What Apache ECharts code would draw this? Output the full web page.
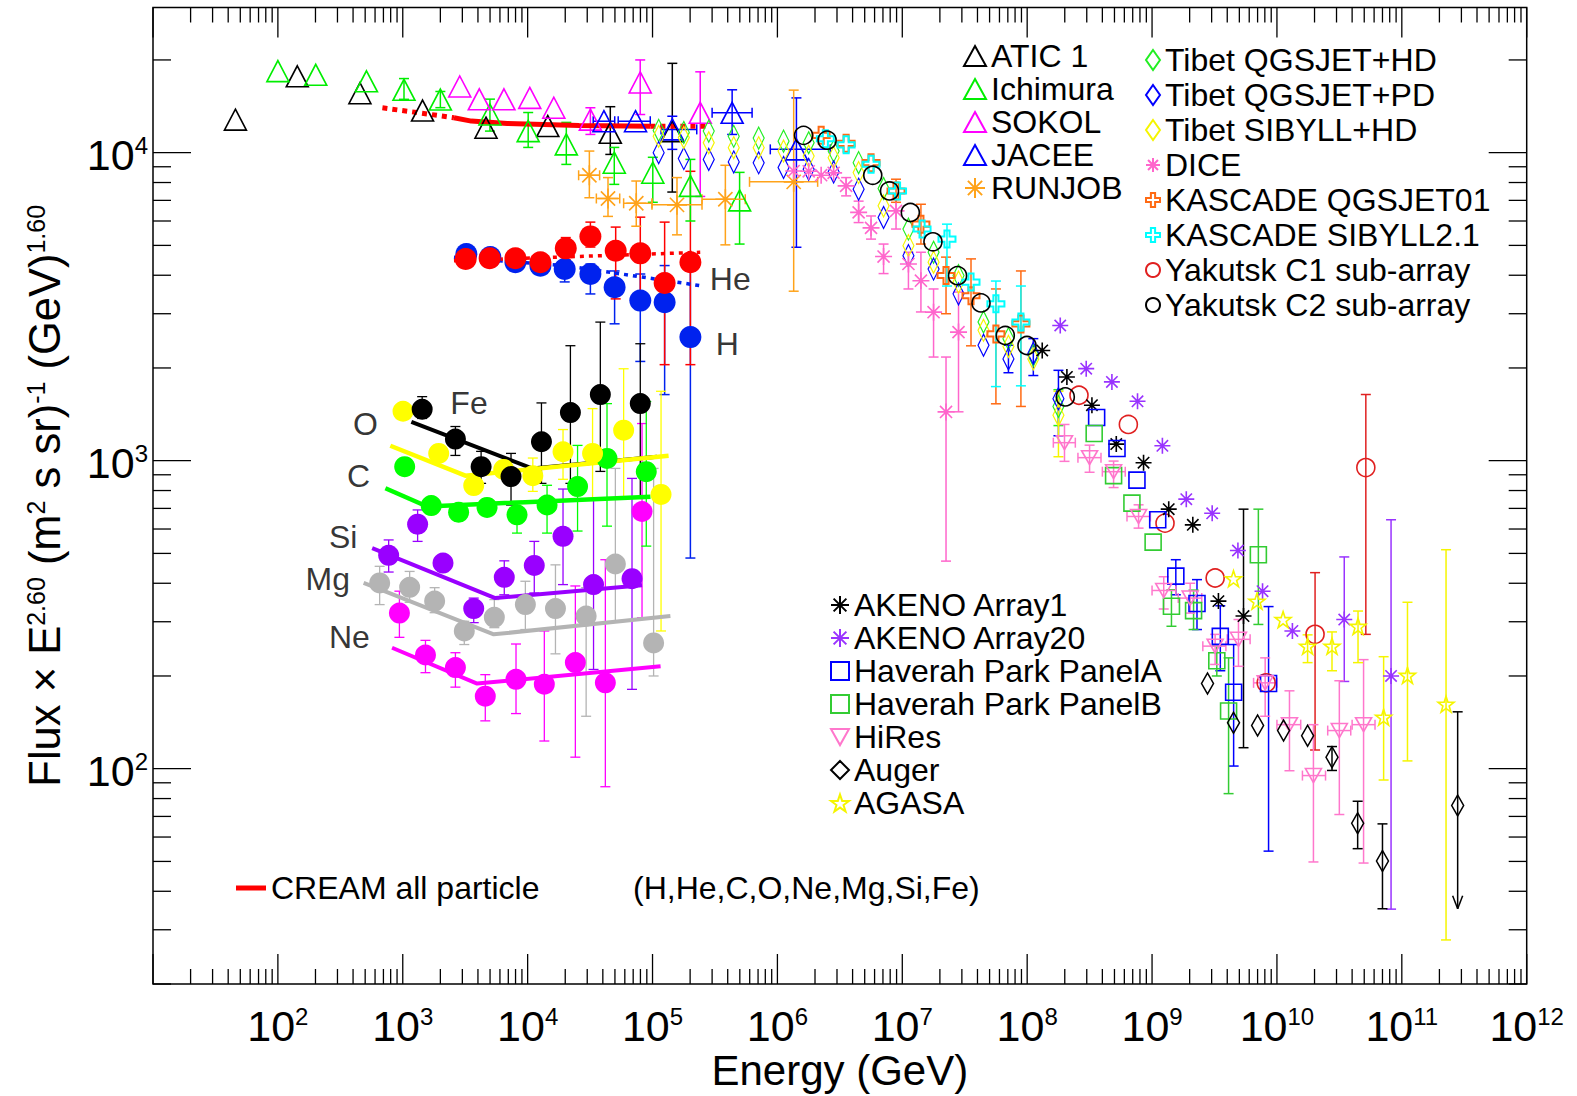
<!DOCTYPE html>
<html><head>
<meta charset="UTF-8">
<title>Cosmic ray all-particle spectrum</title>
<script src="https://cdn.jsdelivr.net/npm/echarts@6.0.0/dist/echarts.min.js"></script>
<style>
html,body{margin:0;padding:0;background:#fff;}
#main{width:1577px;height:1096px;}
</style>
</head>
<body>
<div id="main"></div>
<script>
// points are [E, flux, fluxLo, fluxHi, eLo, eHi, upperLimit]
var atic = [[45.7,12800],[143,17700],[454,15600],[1440,13700],[4640,12050],[14500,12200],[45900,11600,9870,14100],[144000,11750,7450,19500]];
var ichimura = [[100,18400],[201,17900],[512,17050],[1023,16000,14900,17400],[2000,14870,14000,15800],[4990,13300,11750,14920],[10100,11750,10400,13500],[20400,10640,9160,12540],[49400,9280,7890,10400],[100500,8610,6900,9660],[201000,7800,6000,9510],[498000,7000,5050,8630]];
var sokol = [[2860,16400],[4100,14900],[6460,14900],[10400,15060],[16200,13990],[31800,12800,11460,13990],[79700,16900,13300,20000],[241000,13470,7210,18300]];
var jacee = [[40800,12650,0,0,33500,49800],[73100,12650,0,0,53100,95900],[144000,11900,10250,13130,117000,226000],[434000,13470,11460,16000,300000,627000],[1.42e6,10250,4930,15060,877000,2.65e6]];
var runjob = [[31200,8445,7140,10120,25600,37700],[44000,7100,6210,8300,35500,54600],[74100,6850,5770,8090,58700,99000],[157000,6770,5410,8300,99000,249000],[383000,7060,5020,9100,249000,553000],[1.35e6,8040,3550,15960,598000,2.10e6]];
var tibetHD = [[1.12e5,11810],[1.78e5,11630],[2.82e5,11750],[4.47e5,11300],[7.08e5,11150],[1.12e6,10900],[1.78e6,10770],[2.82e6,10120],[4.47e6,9280],[7.08e6,7650],[1.12e7,5650],[1.78e7,4750],[2.82e7,3990],[4.47e7,2820],[7.08e7,2490],[1.12e8,2200],[1.78e8,1500,1300,1700]];
var tibetPD = [[1.12e5,10000],[1.78e5,9570],[2.82e5,9510],[4.47e5,9330],[7.08e5,9270],[1.12e6,8950],[1.78e6,8830],[2.82e6,8660],[4.47e6,7610],[7.08e6,6160],[1.12e7,4630],[1.78e7,4190],[2.82e7,3480],[4.47e7,2370],[7.08e7,2140,1930,2370],[1.12e8,2230,1890,2490],[1.78e8,1590,1205,1965]];
var tibetSIB = [[1.12e5,11300],[1.78e5,11200],[2.82e5,10770],[4.47e5,10380],[7.08e5,10380],[1.12e6,10120],[1.78e6,9750],[2.82e6,9630],[4.47e6,8620],[7.08e6,6720],[1.12e7,4990],[1.78e7,4410],[2.82e7,3800],[4.47e7,2650],[7.08e7,2350],[1.12e8,2140],[1.78e8,1405,1030,1680]];
var dice = [[1.35e6,8720],[1.78e6,8700],[2.24e6,8450],[2.82e6,8600],[3.55e6,7800,7240,8300],[4.47e6,6400,5930,6960],[5.62e6,5700,5240,6230],[7.08e6,4600,4050,5050],[8.91e6,6470,5650,7070],[1.12e7,4350,3610,4750],[1.41e7,3840,3040,4750],[1.78e7,3035,2170,3610],[2.24e7,1440,472,2170],[2.82e7,2615,1441,3527]];
var kascadeQ = [[2.24e6,11380],[3.55e6,10720],[5.62e6,9280],[8.91e6,7510,6900,8200],[1.41e7,5860,5050,6800],[2.24e7,3990,3000,4580],[3.55e7,3430,2360,4520],[5.62e7,2580,1530,3610],[8.91e7,2780,1500,4130]];
var kascadeS = [[2.42e6,11100],[3.55e6,10600],[5.62e6,9170],[9.16e6,7510],[1.44e7,5650],[2.28e7,5240,3690,5860],[3.55e7,3800],[5.62e7,3230,1740,3830],[8.91e7,2820,1750,3690]];
var yakC1 = [[2.6e8,1631],[6.46e8,1311],[1.27e9,627],[3.2e9,416],[8.2e9,190],[2.02e10,273,115,433],[5.15e10,950,273,1640]];
var yakC2 = [[1.62e6,11380],[2.5e6,10980],[5.8e6,8445],[7.9e6,7510],[1.16e7,6393],[1.76e7,5136],[2.77e7,3988],[4.27e7,3253],[6.68e7,2550],[9.96e7,2366],[2.02e8,1611]];
var akeno1 = [[1.32e8,2280],[2.08e8,1870],[3.3e8,1514],[5.17e8,1132],[8.55e8,985],[1.36e9,696],[2.12e9,619],[3.4e9,350],[5.4e9,313,117,696]];
var akeno20 = [[1.84e8,2747],[2.97e8,1990],[4.77e8,1802],[7.65e8,1559],[1.21e9,1118],[1.88e9,750],[3.03e9,675],[4.87e9,511],[7.67e9,377],[1.33e10,280],[3.46e10,305,192,487],[8.2e10,200,35,643]];
var haverahA = [[3.6e8,1381],[5.24e8,1095],[7.57e8,865],[1.11e9,643],[1.55e9,422,367,477],[2.29e9,344,283,411],[3.52e9,269,208,338],[4.5e9,177,102,253],[8.57e9,189,54,336]];
var haverahB = [[3.44e8,1225],[4.92e8,894],[6.9e8,728],[1.02e9,544],[1.43e9,337,290,381],[2.15e9,326,283,380],[3.3e9,224,200,250],[4.1e9,154,83,229],[7.1e9,495,294,696]];
var hires = [[1.99e8,1144,995,1311,1.62e8,2.43e8],[3.16e8,1023,917,1123,2.55e8,3.9e8],[4.92e8,921,818,997,4.0e8,6.1e8],[7.8e8,659,604,719,6.3e8,9.7e8],[1.24e9,379,330,420,1.0e9,1.55e9],[2.02e9,358,320,400,1.62e9,2.5e9],[3.2e9,250,218,273,2.55e9,3.9e9],[4.92e9,263,215,305,4.0e9,6.1e9],[8.05e9,190,148,229,6.5e9,1.0e10],[1.26e10,139,98.5,179,1.0e10,1.55e10],[1.96e10,95,49.8,139,1.6e10,2.45e10],[3.16e10,133,71,193,2.55e10,3.9e10],[4.94e10,139,49.4,226,4.0e10,6.1e10]];
var auger = [[2.78e9,189],[4.49e9,141],[7.0e9,138],[1.13e10,133],[1.76e10,128],[2.76e10,109,98.7,118],[4.43e10,66.5,55,78.4],[7.0e10,50.2,35.1,66.2],[2.8e11,75.9,35.1,153,0,0,1]];
var agasa = [[4.49e9,414],[6.92e9,350],[1.12e10,305],[1.76e10,250,221,272],[2.76e10,250,208,278],[4.46e10,290,221,325],[7.15e10,147,91.9,231],[1.11e11,201,106,347],[2.26e11,162,27.8,514]];

// CREAM direct measurements
var creamH = [[3230,4688],[5020,4584],[7980,4406],[12650,4295],[19800,4192,3805,4449],[31800,4037,3478,4350],[49700,3657,2782,4130],[79800,3309,2100,4037],[125000,3270,1639,4300],[201000,2519,483,4130]];
var creamHe = [[3190,4516],[4960,4540],[7980,4540],[12650,4406],[20200,4890,4500,5300],[31800,5348,4938,5950],[50700,4805,3352,5733],[79800,4711,3478,6175],[125000,3776,2050,5950],[201000,4406,2050,8700]];
var creamFe = [[1430,1469,1371,1614],[2640,1175,1040,1291],[4240,956,844,1072],[7360,888,718,1056],[12900,1152,844,1540],[22000,1433,844,2362],[38200,1639,923,2818],[79800,1532,762,2397]];
var creamO = [[1005,1447],[1940,1056],[3700,830],[6430,937],[11000,894,795,1020],[19200,1069,870,1262],[33100,1056,755,1476],[58700,1256,762,1988],[117000,777,280,1680]];
var creamC = [[1036,956],[1690,715],[2800,680],[4730,705],[8220,667,582,738],[14300,718,582,832],[25100,824,591,1121],[43200,1017,613,1532],[89100,921,528,1556]];
var creamSi = [[771,493,435,553],[1315,622,547,692],[2100,465],[3700,331,298,358],[6500,418,367,473],[11300,457,372,547],[19200,568,396,809],[33700,396,210,746],[68500,414,181,876]];
var creamMg = [[653,401,341,454],[1135,388,347,437],[1800,350,321,387],[3110,280,253,301],[5410,310,287,354],[9590,341,283,406],[16700,331,236,459],[29400,313,148,387],[50400,462,300,944],[102000,256,200,944]];
var creamNe = [[940,320,267,377],[1520,234,205,261],[2640,213,184,238],[4580,172,143,202],[8070,195,151,254],[13600,188,123,280],[24100,221,109,392],[41900,190,87.4,477],[82400,684,309,1320]];

// fitted lines
var creamAllSolid = [[2570,12980],[3540,12660],[6870,12440],[25800,12260],[96200,12190]];
var creamAllLow = [[687,13980],[1300,13500],[2570,12980]];
var creamAllHigh = [[96200,12190],[290000,12190]];
var fitH = [[2570,4574],[20000,4295],[241000,3701]];
var fitHe = [[2570,4460],[241000,4747]];
var fitFe = [[1172,1337],[10840,944],[108600,1030]];
var fitO = [[795,1118],[3170,894],[134500,1038]];
var fitC = [[726,814],[1567,710],[96300,764]];
var fitSi = [[569,520],[5500,358],[82400,394]];
var fitMg = [[486,401],[5350,273],[139000,313]];
var fitNe = [[821,247],[3940,189],[116000,215]];

var elementLabels = [['He',2.85e5,3902],['H',3.18e5,2397],['Fe',2383,1544],['O',395,1316],['C',354,892],['Si',254,565],['Mg',165,412],['Ne',254,267]];

var FONT = "'Liberation Sans', Arial, Helvetica, sans-serif";
var SYM = {
  tri: 'triangle',
  triDown: 'path://M0,0L20,0L10,18Z',
  diamond: 'diamond',
  circle: 'circle',
  square: 'rect',
  aster: 'path://M10,0L10,20M0,10L20,10M2.9,2.9L17.1,17.1M2.9,17.1L17.1,2.9',
  cross: 'path://M7,0L13,0L13,7L20,7L20,13L13,13L13,20L7,20L7,13L0,13L0,7L7,7Z',
  star: 'path://M10,0L12.4,7.2L20,7.2L13.9,11.8L16.2,19L10,14.6L3.8,19L6.1,11.8L0,7.2L7.6,7.2Z'
};

function lineEl(x1, y1, x2, y2, color, w) {
  return {type: 'line', shape: {x1: x1, y1: y1, x2: x2, y2: y2}, style: {stroke: color, lineWidth: w, fill: null}};
}

function errorSeries(name, data, color, lw, cap) {
  var rows = data.map(function (p) {
    return [p[0], p[1], p[2] || 0, p[3] || 0, p[4] || 0, p[5] || 0, p[6] || 0];
  });
  return {
    name: name + ' err', type: 'custom', clip: false, silent: true, z: 2,
    dimensions: ['e', 'f', 'flo', 'fhi', 'elo', 'ehi', 'lim'],
    encode: {x: 0, y: 1},
    data: rows,
    renderItem: function (params, api) {
      var e = api.value(0), f = api.value(1);
      var flo = api.value(2), fhi = api.value(3), elo = api.value(4), ehi = api.value(5), lim = api.value(6);
      var c = api.coord([e, f]);
      var kids = [];
      if (flo > 0 && fhi > 0) {
        var yh = api.coord([e, fhi])[1], yl = api.coord([e, flo])[1];
        kids.push(lineEl(c[0], yh, c[0], yl, color, lw));
        kids.push(lineEl(c[0] - cap, yh, c[0] + cap, yh, color, lw));
        if (lim === 1) {
          kids.push(lineEl(c[0] - 5, yl - 13, c[0], yl, color, lw));
          kids.push(lineEl(c[0] + 5, yl - 13, c[0], yl, color, lw));
        } else {
          kids.push(lineEl(c[0] - cap, yl, c[0] + cap, yl, color, lw));
        }
      }
      if (elo > 0 && ehi > 0) {
        var xl = api.coord([elo, f])[0], xh = api.coord([ehi, f])[0];
        kids.push(lineEl(xl, c[1], xh, c[1], color, lw));
        kids.push(lineEl(xl, c[1] - cap, xl, c[1] + cap, color, lw));
        kids.push(lineEl(xh, c[1] - cap, xh, c[1] + cap, color, lw));
      }
      return {type: 'group', children: kids};
    }
  };
}

function dataSet(name, data, color, symbol, size, opt) {
  opt = opt || {};
  var filled = !!opt.filled;
  var list = [{
    name: name, type: 'scatter', z: 3,
    data: data.map(function (p) { return [p[0], p[1]]; }),
    symbol: symbol, symbolSize: size,
    itemStyle: {color: filled ? color : 'rgba(255,255,255,0)', borderColor: color, borderWidth: filled ? 0 : (opt.lw || 1.6), opacity: 1},
    emphasis: {disabled: true}
  }];
  var hasErr = data.some(function (p) { return p.length > 2; });
  if (hasErr) list.push(errorSeries(name, data, color, opt.elw || 1.5, opt.cap || 5));
  return list;
}

function fitLine(name, data, color, width, dash) {
  return {
    name: name, type: 'line', data: data, symbol: 'none', showSymbol: false, silent: true, z: 2,
    lineStyle: {color: color, width: width, type: dash || 'solid', cap: 'butt'},
    itemStyle: {color: color}
  };
}

// axis decoration (log ticks on all four sides + tick labels)
var xTickData = [];
for (var k = 1; k <= 12; k++) {
  for (var m = 1; m <= 9; m++) {
    if (k === 12 && m > 1) break;
    xTickData.push([m * Math.pow(10, k), 100, m === 1 ? 1 : 0]);
  }
}
var yTickData = [];
for (var k2 = 1; k2 <= 4; k2++) {
  for (var m2 = 1; m2 <= 9; m2++) {
    var v2 = m2 * Math.pow(10, k2);
    if (v2 >= 20 && v2 <= 29600) yTickData.push([1000, v2, m2 === 1 ? 1 : 0]);
  }
}
var tickRich = {
  b: {fontSize: 43, fontFamily: FONT, fill: '#000'},
  s: {fontSize: 24, fontFamily: FONT, fill: '#000', verticalAlign: 'top'}
};

var xTickSeries = {
  name: 'xticks', type: 'custom', clip: false, silent: true, z: 5,
  encode: {x: 0, y: 1}, data: xTickData,
  renderItem: function (params, api) {
    var cs = params.coordSys, v = api.value(0), major = api.value(2) === 1;
    var x = api.coord([v, 100])[0], len = major ? 30 : 15;
    var top = cs.y, bot = cs.y + cs.height;
    var kids = [lineEl(x, bot, x, bot - len, '#000', 1.3), lineEl(x, top, x, top + len, '#000', 1.3)];
    var p = Math.round(Math.log(v) / Math.LN10);
    if (major && p >= 2) {
      kids.push({type: 'text', x: x, y: bot + 20, style: {text: '{b|10}{s|' + p + '}', rich: tickRich, align: 'center', verticalAlign: 'top', fill: '#000', fontSize: 43, fontFamily: FONT}});
    }
    return {type: 'group', children: kids};
  }
};
var yTickSeries = {
  name: 'yticks', type: 'custom', clip: false, silent: true, z: 5,
  encode: {x: 0, y: 1}, data: yTickData,
  renderItem: function (params, api) {
    var cs = params.coordSys, v = api.value(1), major = api.value(2) === 1;
    var y = api.coord([1000, v])[1], len = major ? 38 : 18;
    var left = cs.x, right = cs.x + cs.width;
    var kids = [lineEl(left, y, left + len, y, '#000', 1.3), lineEl(right, y, right - len, y, '#000', 1.3)];
    if (major) {
      var p = Math.round(Math.log(v) / Math.LN10);
      kids.push({type: 'text', x: left - 5, y: y + 2, style: {text: '{b|10}{s|' + p + '}', rich: tickRich, align: 'right', verticalAlign: 'middle', fill: '#000', fontSize: 43, fontFamily: FONT}});
    }
    return {type: 'group', children: kids};
  }
};

var labelSeries = {
  name: 'element labels', type: 'scatter', silent: true, z: 6,
  symbolSize: 1, itemStyle: {color: 'rgba(0,0,0,0)'},
  data: elementLabels.map(function (l) { return {value: [l[1], l[2]], label: {formatter: l[0]}}; }),
  label: {show: true, position: 'right', distance: 0, fontSize: 32, fontFamily: FONT, color: '#000'}
};

var series = [].concat(
  fitLine('CREAM all particle', creamAllSolid, '#ff0000', 5),
  fitLine('CREAM all low', creamAllLow, '#ff0000', 5, [5, 5]),
  fitLine('CREAM all high', creamAllHigh, '#ff0000', 5, [5, 5]),
  fitLine('H fit', fitH, '#0022ee', 3.5, [4, 5]),
  fitLine('He fit', fitHe, '#ff0000', 3.5, [4, 5]),
  fitLine('Fe fit', fitFe, '#000000', 4),
  fitLine('O fit', fitO, '#ffff00', 4.5),
  fitLine('C fit', fitC, '#00ff00', 4.5),
  fitLine('Si fit', fitSi, '#9900ff', 4),
  fitLine('Mg fit', fitMg, '#b4b4b4', 4),
  fitLine('Ne fit', fitNe, '#ff00ff', 4),
  dataSet('CREAM H', creamH, '#0022ee', 'circle', 22, {filled: true, elw: 1.5}),
  dataSet('CREAM He', creamHe, '#ff0000', 'circle', 22, {filled: true, elw: 1.5}),
  dataSet('CREAM Mg', creamMg, '#b4b4b4', 'circle', 21, {filled: true, elw: 1.3}),
  dataSet('CREAM Ne', creamNe, '#ff00ff', 'circle', 21, {filled: true, elw: 1.3}),
  dataSet('CREAM Si', creamSi, '#9900ff', 'circle', 21, {filled: true, elw: 1.3}),
  dataSet('CREAM C', creamC, '#00ff00', 'circle', 21, {filled: true, elw: 1.3}),
  dataSet('CREAM O', creamO, '#ffff00', 'circle', 21, {filled: true, elw: 1.3}),
  dataSet('CREAM Fe', creamFe, '#000000', 'circle', 21, {filled: true, elw: 1.3}),
  dataSet('ATIC 1', atic, '#000000', SYM.tri, [22, 21]),
  dataSet('Ichimura', ichimura, '#00ee00', SYM.tri, [22, 21]),
  dataSet('SOKOL', sokol, '#ff00ff', SYM.tri, [22, 21]),
  dataSet('JACEE', jacee, '#0000ff', SYM.tri, [22, 21]),
  dataSet('RUNJOB', runjob, '#ffa31a', SYM.aster, 20),
  dataSet('Tibet QGSJET+HD', tibetHD, '#22ee22', SYM.diamond, [11, 22], {lw: 1.3}),
  dataSet('Tibet QGSJET+PD', tibetPD, '#0000ff', SYM.diamond, [11, 22], {lw: 1.3}),
  dataSet('Tibet SIBYLL+HD', tibetSIB, '#f5f500', SYM.diamond, [11, 22], {lw: 1.3}),
  dataSet('DICE', dice, '#ff66cc', SYM.aster, 17),
  dataSet('KASCADE QGSJET01', kascadeQ, '#ff6a13', SYM.cross, 17, {lw: 2}),
  dataSet('KASCADE SIBYLL2.1', kascadeS, '#00ffff', SYM.cross, 17, {lw: 2}),
  dataSet('Yakutsk C1 sub-array', yakC1, '#e02020', SYM.circle, 18),
  dataSet('Yakutsk C2 sub-array', yakC2, '#000000', SYM.circle, 18),
  dataSet('AKENO Array1', akeno1, '#000000', SYM.aster, 16),
  dataSet('AKENO Array20', akeno20, '#9933ff', SYM.aster, 16),
  dataSet('Haverah Park PanelA', haverahA, '#0000ff', SYM.square, 16),
  dataSet('Haverah Park PanelB', haverahB, '#33cc33', SYM.square, 16),
  dataSet('HiRes', hires, '#ff77cc', SYM.triDown, [16, 14]),
  dataSet('Auger', auger, '#000000', SYM.diamond, [12, 21]),
  dataSet('AGASA', agasa, '#f5f500', SYM.star, 16),
  [xTickSeries, yTickSeries, labelSeries]
);

var legendText = {fontSize: 32, fontFamily: FONT, color: '#000'};
var option = {
  animation: false,
  backgroundColor: '#ffffff',
  textStyle: {fontFamily: FONT, color: '#000'},
  grid: {left: 153, top: 7.5, right: 50.3, bottom: 109.3, show: true, borderColor: '#000', borderWidth: 1.5, backgroundColor: 'rgba(0,0,0,0)'},
  xAxis: {
    type: 'log', logBase: 10, min: 10, max: 1e12,
    axisLine: {show: false}, axisTick: {show: false}, axisLabel: {show: false}, splitLine: {show: false},
    name: 'Energy (GeV)', nameLocation: 'middle', nameGap: 65,
    nameTextStyle: {fontSize: 42, fontFamily: FONT, color: '#000'}
  },
  yAxis: {
    type: 'log', logBase: 10, min: 20, max: 29600,
    axisLine: {show: false}, axisTick: {show: false}, axisLabel: {show: false}, splitLine: {show: false},
    name: 'Flux × E{sup|2.60} (m{sup|2} s sr){sup|-1} (GeV){sup|1.60}',
    nameLocation: 'middle', nameRotate: 90, nameGap: 86,
    nameTextStyle: {fontSize: 43.5, fontFamily: FONT, color: '#000',
      rich: {sup: {fontSize: 25, fontFamily: FONT, color: '#000', verticalAlign: 'top'}}}
  },
  legend: [
    {data: ['ATIC 1', 'Ichimura', 'SOKOL', 'JACEE', 'RUNJOB'], orient: 'vertical', left: 963, top: 40, padding: 0,
      itemGap: 1, itemWidth: 22, itemHeight: 20, textStyle: legendText, selectedMode: false},
    {data: ['Tibet QGSJET+HD', 'Tibet QGSJET+PD', 'Tibet SIBYLL+HD', 'DICE', 'KASCADE QGSJET01', 'KASCADE SIBYLL2.1', 'Yakutsk C1 sub-array', 'Yakutsk C2 sub-array'],
      orient: 'vertical', left: 1145, top: 44, padding: 0, itemGap: 3, itemWidth: 14, itemHeight: 20, textStyle: legendText, selectedMode: false},
    {data: ['AKENO Array1', 'AKENO Array20', 'Haverah Park PanelA', 'Haverah Park PanelB', 'HiRes', 'Auger', 'AGASA'],
      orient: 'vertical', left: 830, top: 589, padding: 0, itemGap: 1, itemWidth: 18, itemHeight: 18, textStyle: legendText, selectedMode: false},
    {data: [{name: 'CREAM all particle', icon: 'rect'}], orient: 'vertical', left: 236, top: 872, padding: 0,
      itemWidth: 30, itemHeight: 5, textStyle: legendText, selectedMode: false}
  ],
  graphic: [
    {type: 'text', left: 633, top: 872, style: {text: '(H,He,C,O,Ne,Mg,Si,Fe)', fontSize: 32, fontFamily: FONT, fill: '#000'}}
  ],
  series: series
};

var chart = echarts.init(document.getElementById('main'), null, {renderer: 'svg'});
chart.setOption(option);
</script>
</body>
</html>
